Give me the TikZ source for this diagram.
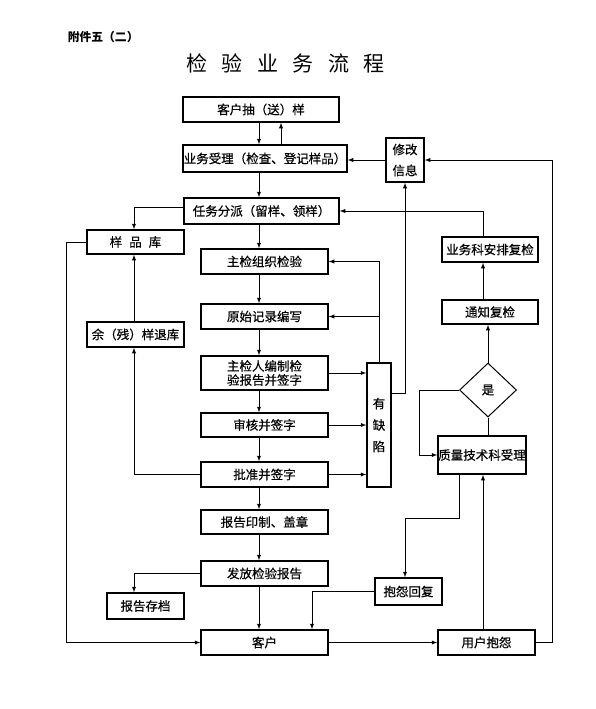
\documentclass[tikz,border=0pt]{standalone}
\usepackage{fontspec}
\setmainfont{Noto Sans CJK SC}
\newfontfamily\boxfont{Noto Sans CJK SC}[FakeBold=0.5]
\usepackage{tikz}
\usetikzlibrary{arrows}
\usetikzlibrary{calc}
\usetikzlibrary{shapes.geometric}
\newcommand{\tgap}{\hspace{14.6pt}}

\begin{document}
\begin{tikzpicture}[x=1pt, y=-1pt, line width=0.9pt, >=latex]
  \tikzstyle{box}=[draw=black, line width=1.5pt, inner sep=0pt, minimum height=25pt, align=center, font=\boxfont\fontsize{12.5}{14}\selectfont]
\useasboundingbox (0,0) rectangle (596,709);
\node[anchor=west, font=\fontsize{11.8}{14}\selectfont\bfseries] (fujian) at (64,37) {附件五（二）};
\node[font=\fontsize{21}{24}\selectfont] (title) at (285.5,63) {检\tgap 验\tgap 业\tgap 务\tgap 流\tgap 程};
% main column
\node[box, minimum width=156pt] (songyang) at (261,109.5) {客户抽（送）样};
\node[box, minimum width=164pt, minimum height=27pt] (shouli) at (265,158.5) {业务受理（检查、登记样品）};
\node[box, minimum width=38pt, minimum height=44pt, font=\boxfont\fontsize{12.5}{21}\selectfont] (xiugai) at (405,160) {修改\\信息};
\node[box, minimum width=155pt, minimum height=26pt] (fenpai) at (261.5,211) {任务分派（留样、领样）};
\node[box, minimum width=127pt] (zujian) at (264.5,261.5) {主检组织检验};
\node[box, minimum width=127pt] (yuanshi) at (264.5,316.5) {原始记录编写};
\node[box, minimum width=127pt, minimum height=34pt] (bianzhi) at (264.5,373) {主检人编制检\\验报告并签字};
\node[box, minimum width=127pt, minimum height=24pt] (shenhe) at (264.5,425) {审核并签字};
\node[box, minimum width=127pt] (pizhun) at (264.5,474.5) {批准并签字};
\node[box, minimum width=127pt, minimum height=24pt] (yinzhi) at (264.5,522) {报告印制、盖章};
\node[box, minimum width=127pt] (fafang) at (264.5,573.5) {发放检验报告};
\node[box, minimum width=127pt] (kehu) at (264.5,642.5) {客户};
% left side
\node[box, minimum width=97pt, minimum height=24pt] (yangpinku) at (135.5,242) {样\hspace{7pt}品\hspace{7pt}库};
\node[box, minimum width=97pt] (tuiku) at (135.5,334.5) {余（残）样退库};
\node[box, minimum width=77pt, minimum height=26pt] (cundang) at (145.5,606) {报告存档};
% right side
\node[box, minimum width=24pt, minimum height=124pt, font=\boxfont\fontsize{12.5}{21.5}\selectfont] (youque) at (379,425) {有\\缺\\陷};
\node[box, minimum width=96pt] (anpai) at (490,249.5) {业务科安排复检};
\node[box, minimum width=96pt, minimum height=24pt] (tongzhi) at (490,312) {通知复检};
\node[diamond, draw=black, line width=1pt, minimum width=57pt, minimum height=54pt, inner sep=0pt, font=\boxfont\fontsize{12.5}{14}\selectfont] (shi) at (488,390) {是};
\node[box, minimum width=88pt, minimum height=38pt] (zhiliang) at (482,455) {质量技术科受理};
\node[box, minimum width=67pt, minimum height=27pt] (huifu) at (408.5,591.5) {抱怨回复};
\node[box, minimum width=97pt] (baoyuan) at (486.5,642.5) {用户抱怨};
\coordinate (midcol) at (259,0);
\coordinate (backcol) at (281,0);
\coordinate (leftcol) at (134,0);
\coordinate (rightcol) at (483,0);
\coordinate (replycol) at (312,0);
\coordinate (bend) at (459,518);
% connectors
\draw[->] (songyang.south -| midcol) -- (shouli.north -| midcol);
\draw[->] (shouli.north -| backcol) -- (songyang.south -| backcol);
\foreach \a/\b in {shouli/fenpai, fenpai/zujian, zujian/yuanshi, yuanshi/bianzhi, bianzhi/shenhe, shenhe/pizhun, pizhun/yinzhi, yinzhi/fafang, fafang/kehu}
  \draw[->] (\a.south -| midcol) -- (\b.north -| midcol);
\draw[->] ([yshift=4pt]fenpai.west) -| (yangpinku.north -| leftcol);
\draw[->] (tuiku.north -| leftcol) -- (yangpinku.south -| leftcol);
\draw[->] (pizhun.west) -| (tuiku.south -| leftcol);
\draw[->] (yangpinku.west) -- ++(-20,0) |- (kehu.west);
\draw[->] (fafang.west) -| (cundang.north -| leftcol);
\foreach \n in {bianzhi, shenhe, pizhun}
  \draw[->] (\n.east) -- (\n.east -| youque.west);
\draw[->] (youque.north) |- (zujian.east);
\draw[->] (youque.north |- yuanshi.east) -- (yuanshi.east);
\draw[->] ([yshift=32pt]youque.east) -| (xiugai.south);
\draw[->] (xiugai.west) -- (xiugai.west -| shouli.east);
\draw[->] (baoyuan.east) -- ++(17,0) |- (xiugai.east);
\draw[->] (anpai.north -| rightcol) |- (fenpai.east);
\draw[->] (tongzhi.north -| rightcol) -- (anpai.south -| rightcol);
\draw[->] (shi.north) -- (tongzhi.south -| shi.north);
\draw[->] (shi.west) -- ++(-40,0) |- (zhiliang.west);
\draw (shi.south) -- (shi.south |- zhiliang.north);
\draw[->] (zhiliang.south -| bend) -- (bend) -| (huifu.north -| xiugai.south);
\draw[->] (huifu.west) -| (kehu.north -| replycol);
\draw[->] (kehu.east) -- (baoyuan.west);
\draw[->] (baoyuan.north -| rightcol) -- (zhiliang.south -| rightcol);
\end{tikzpicture}
\end{document}
